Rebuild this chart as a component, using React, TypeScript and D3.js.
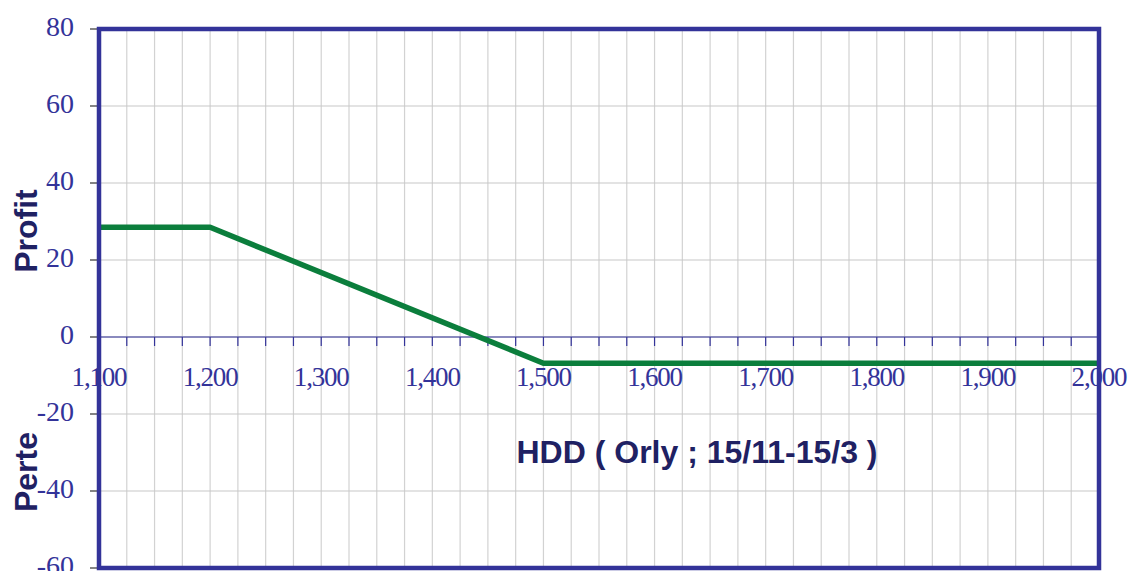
import React from "react";
import * as d3 from "d3";

const hddPoints = [1100, 1200, 1500, 2000];
const profitValues = [28.5, 28.5, -6.8, -6.8];
const xTickValues = [1100, 1200, 1300, 1400, 1500, 1600, 1700, 1800, 1900, 2000];
const yTickValues = [80, 60, 40, 20, 0, -20, -40, -60];
const xTitle = "HDD ( Orly ; 15/11-15/3 )";
const yTitleTop = "Profit";
const yTitleBottom = "Perte";

const W = 1130;
const H = 571;
const M = { left: 99, right: 1099, top: 29, bottom: 568 };

export default function App() {
  const x = d3.scaleLinear().domain([1100, 2000]).range([M.left, M.right]);
  const y = d3.scaleLinear().domain([-60, 80]).range([M.bottom, M.top]);
  const minorX = d3.range(1100, 2000.1, 25);
  const data = hddPoints.map((h, i) => [h, profitValues[i]] as [number, number]);
  const line = d3
    .line<[number, number]>()
    .x((d) => x(d[0]))
    .y((d) => y(d[1]));
  const fmt = d3.format(",");
  const blue = "#333399";
  const navy = "#1f2163";
  return (
    <svg
      width={W}
      height={H}
      style={{ position: "absolute", left: 0, top: 0, background: "#fff" }}
    >
      {minorX.map((v) => (
        <line key={"gx" + v} x1={x(v)} x2={x(v)} y1={M.top} y2={M.bottom} stroke="#d2d2d2" strokeWidth={1.2} />
      ))}
      {yTickValues.map((v) => (
        <line key={"gy" + v} x1={M.left} x2={M.right} y1={y(v)} y2={y(v)} stroke="#c8c8c8" strokeWidth={1.2} />
      ))}
      {yTickValues.map((v) => (
        <g key={"yt" + v}>
          <line x1={M.left - 9} x2={M.left} y1={y(v)} y2={y(v)} stroke="#333" strokeWidth={1.2} />
          <text
            x={74}
            y={y(v) + 7}
            textAnchor="end"
            fontFamily="'Liberation Serif', serif"
            fontSize={28}
            fill={blue}
          >
            {v}
          </text>
        </g>
      ))}
      <line x1={M.left} x2={M.right} y1={y(0)} y2={y(0)} stroke={blue} strokeWidth={1.2} />
      {minorX.map((v) => (
        <line key={"xt" + v} x1={x(v)} x2={x(v)} y1={y(0)} y2={y(0) + 9} stroke={blue} strokeWidth={1.2} />
      ))}
      {xTickValues.map((v) => (
        <text
          key={"xl" + v}
          x={x(v)}
          y={386}
          textAnchor="middle"
          fontFamily="'Liberation Serif', serif"
          fontSize={27}
          letterSpacing={-1.2}
          fill={blue}
        >
          {fmt(v)}
        </text>
      ))}
      <path d={line(data) || ""} fill="none" stroke="#0b7e3c" strokeWidth={5.5} strokeLinejoin="round" />
      <rect
        x={M.left}
        y={M.top}
        width={M.right - M.left}
        height={M.bottom - M.top}
        fill="none"
        stroke={blue}
        strokeWidth={4.5}
      />
      <text
        x={697}
        y={463}
        textAnchor="middle"
        fontFamily="'Liberation Sans', Arial, sans-serif"
        fontWeight="bold"
        fontSize={32}
        fill={navy}
      >
        {xTitle}
      </text>
      <text
        transform={`translate(37,231) rotate(-90)`}
        textAnchor="middle"
        fontFamily="'Liberation Sans', Arial, sans-serif"
        fontWeight="bold"
        fontSize={32}
        fill={navy}
      >
        {yTitleTop}
      </text>
      <text
        transform={`translate(37,472) rotate(-90)`}
        textAnchor="middle"
        fontFamily="'Liberation Sans', Arial, sans-serif"
        fontWeight="bold"
        fontSize={32}
        fill={navy}
      >
        {yTitleBottom}
      </text>
    </svg>
  );
}
